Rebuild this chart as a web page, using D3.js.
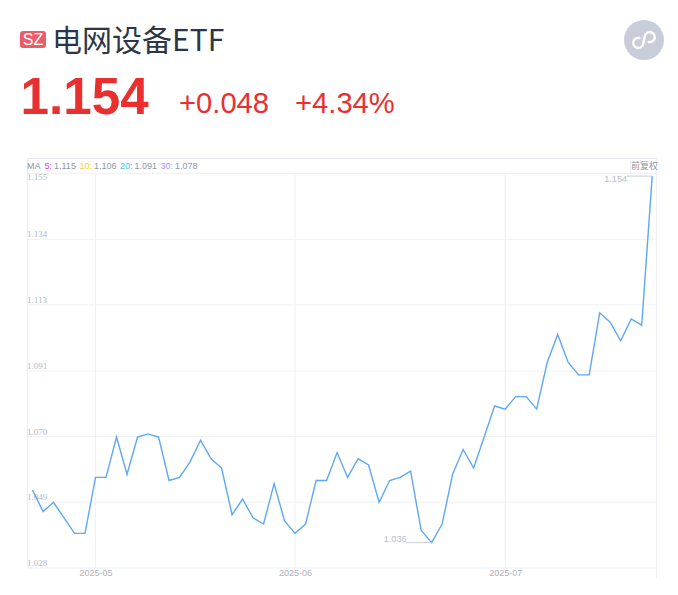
<!DOCTYPE html>
<html>
<head>
<meta charset="utf-8">
<script src="https://cdn.jsdelivr.net/npm/d3@7"></script>
<style>
  html, body { margin: 0; padding: 0; background: #fff; }
  svg { display: block; }
  text { font-family: "Liberation Sans", sans-serif; }
</style>
</head>
<body>
<svg id="chart" width="678" height="595"></svg>
<script>
// trading days shown on the chart
const dates = [
  "2025-04-23", "2025-04-24", "2025-04-25", "2025-04-28", "2025-04-29", "2025-04-30",
  "2025-05-06", "2025-05-07", "2025-05-08", "2025-05-09",
  "2025-05-12", "2025-05-13", "2025-05-14", "2025-05-15", "2025-05-16",
  "2025-05-19", "2025-05-20", "2025-05-21", "2025-05-22", "2025-05-23",
  "2025-05-26", "2025-05-27", "2025-05-28", "2025-05-29", "2025-05-30",
  "2025-06-03", "2025-06-04", "2025-06-05", "2025-06-06",
  "2025-06-09", "2025-06-10", "2025-06-11", "2025-06-12", "2025-06-13",
  "2025-06-16", "2025-06-17", "2025-06-18", "2025-06-19", "2025-06-20",
  "2025-06-23", "2025-06-24", "2025-06-25", "2025-06-26", "2025-06-27",
  "2025-06-30", "2025-07-01", "2025-07-02", "2025-07-03", "2025-07-04",
  "2025-07-07", "2025-07-08", "2025-07-09", "2025-07-10", "2025-07-11",
  "2025-07-14", "2025-07-15", "2025-07-16", "2025-07-17", "2025-07-18",
  "2025-07-21"
];
const closes = [
  1.053, 1.046, 1.049, 1.044, 1.039, 1.039,
  1.057, 1.057, 1.070, 1.058,
  1.070, 1.071, 1.070, 1.056, 1.057,
  1.062, 1.069, 1.063, 1.060, 1.045,
  1.050, 1.044, 1.042, 1.055, 1.043,
  1.039, 1.042, 1.056, 1.056,
  1.065, 1.057, 1.063, 1.061, 1.049,
  1.056, 1.057, 1.059, 1.040, 1.036,
  1.042, 1.058, 1.066, 1.060, 1.070,
  1.080, 1.079, 1.083, 1.083, 1.079,
  1.094, 1.103, 1.094, 1.090, 1.090,
  1.110, 1.107, 1.101, 1.108, 1.106,
  1.154
];
// evenly spaced grid values, the labels round them to 3 places
const yTicks = [1.028, 1.0492, 1.0703, 1.0914, 1.1127, 1.1338, 1.155];
const xTicks = ["2025-05-06", "2025-06-03", "2025-07-01"];
const xTickLabels = ["2025-05", "2025-06", "2025-07"];
const maLabels = ["5", "10", "20", "30"];
const maValues = ["1.115", "1.106", "1.091", "1.078"];
const maColors = ["#e63ffb", "#f2cf3a", "#4cc4fa", "#ab94fb"];

const svg = d3.select("#chart");
const plot = { left: 27, right: 657, top: 173, bottom: 568 };

const x = d3.scalePoint().domain(dates).range([32.5, 652.2]);
const y = d3.scaleLinear().domain([1.028, 1.155]).range([567.5, 173]);

// header
svg.append("rect").attr("x", 20).attr("y", 31).attr("width", 26).attr("height", 17)
  .attr("rx", 3).attr("fill", "#ee5a68");
svg.append("text").attr("x", 33).attr("y", 45).attr("text-anchor", "middle")
  .attr("font-size", 16).attr("fill", "#fff").text("SZ");
svg.append("text").attr("x", 52).attr("y", 51).attr("font-size", 30)
  .style("font-family", "'Noto Sans CJK SC', sans-serif").attr("fill", "#2d3648").text("电网设备ETF");

svg.append("text").attr("x", 20.5).attr("y", 114).attr("font-size", 51.2)
  .attr("font-weight", "bold").attr("fill", "#e93030").text("1.154");
svg.append("text").attr("x", 179).attr("y", 113).attr("font-size", 29.2)
  .attr("fill", "#e93030").text("+0.048");
svg.append("text").attr("x", 295).attr("y", 113).attr("font-size", 29.2)
  .attr("fill", "#e93030").text("+4.34%");

// mini program icon
const icon = svg.append("g").attr("transform", "translate(644,40)");
icon.append("circle").attr("r", 20).attr("fill", "#c8cdd9");
icon.append("path")
  .attr("d", "M-5,-1 A5,5 0 1 0 0,4 L0,-4 A5,5 0 1 1 5,1")
  .attr("transform", "rotate(12)")
  .attr("fill", "none").attr("stroke", "#fff").attr("stroke-width", 2.4)
  .attr("stroke-linecap", "round");

// frame and MA strip
const gridColor = "#eef0f5";
svg.append("line").attr("x1", plot.left).attr("x2", plot.right).attr("y1", 158.5).attr("y2", 158.5).attr("stroke", "#e6e8f0");
svg.append("line").attr("x1", plot.left + 0.5).attr("x2", plot.left + 0.5).attr("y1", 158).attr("y2", plot.bottom).attr("stroke", gridColor);
svg.append("line").attr("x1", plot.right - 0.5).attr("x2", plot.right - 0.5).attr("y1", 158).attr("y2", 579).attr("stroke", gridColor);
svg.append("line").attr("x1", 630.5).attr("x2", 630.5).attr("y1", 158).attr("y2", 173).attr("stroke", gridColor);

const ma = svg.append("text").attr("x", 27).attr("y", 168.5).attr("font-size", 9).attr("fill", "#8f96a8");
ma.append("tspan").text("MA ");
maLabels.forEach((d, i) => {
  ma.append("tspan").attr("dx", i ? 3.5 : 2).attr("fill", maColors[i]).text(d + ":");
  ma.append("tspan").attr("dx", 2).text(maValues[i]);
});
svg.append("text").attr("x", 631).attr("y", 169).attr("font-size", 9)
  .style("font-family", "'Noto Sans CJK SC', sans-serif").attr("fill", "#8f96a8").text("前复权");

// y axis, labels sit inside the plot
const yAxis = svg.append("g").attr("transform", `translate(${plot.left},0)`)
  .call(d3.axisRight(y).tickValues(yTicks).tickSize(plot.right - plot.left).tickFormat(d3.format(".3f")));
yAxis.select(".domain").remove();
yAxis.selectAll("line").attr("stroke", gridColor);
yAxis.selectAll("text")
  .attr("x", 0).attr("dy", (d) => (d === 1.155 ? 6.5 : -2))
  .attr("font-size", 9).attr("fill", "#b4b8c2")
  .style("font-family", "'Liberation Serif', serif");

// x axis
const xAxis = svg.append("g").attr("transform", `translate(0,${plot.bottom})`)
  .call(d3.axisBottom(x).tickValues(xTicks).tickSize(0).tickFormat((d) => xTickLabels[xTicks.indexOf(d)]));
xAxis.select(".domain").remove();
xAxis.selectAll("text").attr("y", 2).attr("font-size", 9).attr("fill", "#adb2c0");
svg.append("g").selectAll("line").data(xTicks).join("line")
  .attr("x1", (d) => x(d)).attr("x2", (d) => x(d))
  .attr("y1", plot.top).attr("y2", plot.bottom)
  .attr("stroke", gridColor);

// close line
const line = d3.line().x((d, i) => x(dates[i])).y((d) => y(d));
svg.append("path").datum(closes).attr("d", line)
  .attr("fill", "none").attr("stroke", "#5ea8f4").attr("stroke-width", 1.4);

// high / low markers
const hiIdx = d3.maxIndex(closes), loIdx = d3.minIndex(closes);
[hiIdx, loIdx].forEach((i) => {
  const px = x(dates[i]), py = y(closes[i]);
  svg.append("line").attr("x1", px - 25.5).attr("x2", px).attr("y1", py).attr("y2", py)
    .attr("stroke", "#c8cbd2");
  svg.append("text").attr("x", px - 25).attr("y", i === hiIdx ? py + 6 : py - 1).attr("text-anchor", "end")
    .attr("font-size", 9.2).attr("fill", "#b9bdc8").text(closes[i].toFixed(3));
});
</script>
</body>
</html>
